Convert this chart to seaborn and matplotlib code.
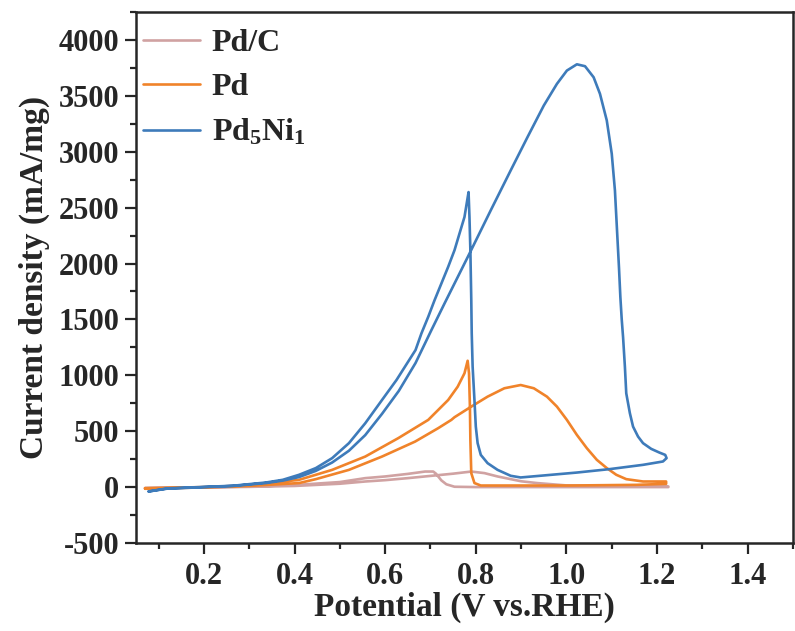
import numpy as np
import pandas as pd
import matplotlib
matplotlib.use("Agg")
import matplotlib.pyplot as plt
import seaborn as sns
from matplotlib.ticker import MultipleLocator

# ---- data ----
pdc_x = [0.07, 0.2, 0.3, 0.4, 0.5, 0.556, 0.6, 0.65, 0.7, 0.75, 0.79, 0.819, 0.848, 0.9, 0.935, 1.0, 1.1, 1.225,
         1.225, 1.1, 1.0, 0.9, 0.8, 0.753, 0.735, 0.724, 0.712, 0.706, 0.688, 0.65, 0.6, 0.556, 0.5, 0.4, 0.3, 0.2, 0.07]
pdc_y = [-10, -3, 2, 10, 30, 50, 62, 80, 100, 120, 139, 125, 95, 52, 36, 15, 8, 5,
         0, 0, 0, 0, 0, 3, 25, 60, 120, 139, 139, 118, 95, 80, 45, 18, 5, -2, -8]

pd_x = [0.07, 0.2, 0.3, 0.41, 0.447, 0.52, 0.593, 0.666, 0.717, 0.746, 0.753, 0.79, 0.826, 0.863, 0.899,
        0.928, 0.957, 0.979, 1.001, 1.023, 1.045, 1.067, 1.089, 1.11, 1.132, 1.169, 1.22,
        1.22, 1.154, 1.008, 0.863, 0.811, 0.797, 0.79, 0.788, 0.787, 0.785, 0.782, 0.775, 0.76, 0.739,
        0.717, 0.695, 0.629, 0.556, 0.483, 0.41, 0.3, 0.2, 0.07]
pd_y = [-15, -3, 10, 36, 71, 154, 273, 407, 527, 601, 625, 720, 809, 884, 913,
        884, 809, 720, 601, 467, 348, 244, 170, 110, 71, 50, 50,
        29, 20, 14, 14, 14, 36, 125, 422, 720, 1018, 1130, 1018, 898, 779,
        690, 601, 438, 273, 154, 65, 15, 0, -10]

pdni_x = [0.078, 0.119, 0.191, 0.264, 0.337, 0.374, 0.41, 0.447, 0.483, 0.52, 0.556, 0.593, 0.63, 0.667,
          0.702, 0.731, 0.786, 0.833, 0.877, 0.914, 0.95, 0.979, 1.001, 1.023, 1.041, 1.06, 1.074,
          1.089, 1.1, 1.107, 1.112, 1.116, 1.119, 1.122, 1.125, 1.129, 1.132, 1.14, 1.147, 1.158,
          1.169, 1.187, 1.205, 1.218, 1.221,
          1.213, 1.169, 1.096, 1.023, 0.95, 0.899, 0.877, 0.848, 0.826, 0.811, 0.804, 0.8, 0.797,
          0.793, 0.791, 0.79, 0.788, 0.786, 0.784, 0.781, 0.775, 0.764, 0.753, 0.739, 0.724, 0.709,
          0.695, 0.68, 0.667, 0.625, 0.593, 0.556, 0.52, 0.483, 0.447, 0.41, 0.374, 0.337, 0.264,
          0.191, 0.119, 0.078]
pdni_y = [-39, -14, -2, 10, 36, 58, 90, 145, 220, 325, 465, 655, 860, 1110,
          1404, 1643, 2089, 2476, 2833, 3130, 3413, 3607, 3726, 3782, 3765, 3666, 3518,
          3280, 2982, 2654, 2268, 1960, 1700, 1500, 1340, 1077, 839, 661, 541, 452,
          393, 342, 309, 288, 259,
          229, 199, 161, 130, 104, 86, 101, 154, 214, 288, 393, 541, 779,
          1077, 1375, 1673, 2119, 2416, 2639, 2565, 2416, 2268, 2119, 1970, 1821, 1672,
          1523, 1375, 1226, 958, 779, 571, 393, 259, 170, 110, 65, 41, 12,
          0, -12, -39]

series_names = ["Pd/C", "Pd", "Pd$_\\mathbf{5}$Ni$_\\mathbf{1}$"]
series_colors = ["#d0a2a2", "#f0832a", "#3e7bba"]
series_x = [pdc_x, pd_x, pdni_x]
series_y = [pdc_y, pd_y, pdni_y]

frames = []
for name, xs, ys in zip(series_names, series_x, series_y):
    frames.append(pd.DataFrame({"Potential": xs, "Current": ys, "Sample": name}))
df = pd.concat(frames, ignore_index=True)

sns.set_style("ticks")
plt.rcParams["font.family"] = ["Liberation Serif", "DejaVu Serif"]
plt.rcParams["font.weight"] = "bold"
plt.rcParams["axes.unicode_minus"] = False
plt.rcParams["mathtext.fontset"] = "custom"
plt.rcParams["mathtext.rm"] = "Liberation Serif:bold"
plt.rcParams["mathtext.bf"] = "Liberation Serif:bold"
plt.rcParams["mathtext.it"] = "Liberation Serif:bold"

fig = plt.figure(figsize=(7.95, 6.31), dpi=100)
ax = fig.add_axes([0.171, 0.1395, 0.8265, 0.8415])

for name, col in zip(series_names, series_colors):
    sub = df[df["Sample"] == name]
    sns.lineplot(data=sub, x="Potential", y="Current", sort=False, estimator=None,
                 color=col, linewidth=1.9, ax=ax, label=name)

ax.set_xlim(0.05, 1.5)
ax.set_ylim(-500, 4250)
ax.set_xticks([0.2, 0.4, 0.6, 0.8, 1.0, 1.2, 1.4])
ax.set_xticklabels(["0.2", "0.4", "0.6", "0.8", "1.0", "1.2", "1.4"])
ax.xaxis.set_minor_locator(MultipleLocator(0.1))
ax.yaxis.set_major_locator(MultipleLocator(500))
ax.yaxis.set_minor_locator(MultipleLocator(250))

ax.tick_params(axis="both", which="major", length=8, width=1.6, labelsize=22, direction="out", pad=4)
ax.tick_params(axis="x", which="major", pad=6)
ax.tick_params(axis="both", which="minor", length=4.5, width=1.6, direction="out")
for lab in ax.get_xticklabels() + ax.get_yticklabels():
    lab.set_fontweight("bold")
for sp in ax.spines.values():
    sp.set_linewidth(1.8)
    sp.set_visible(True)

ax.set_xlabel("Potential (V vs.RHE)", fontsize=24, fontweight="bold", labelpad=0)
ax.set_ylabel("Current density (mA/mg)", fontsize=24, fontweight="bold", labelpad=6)

leg = ax.legend(loc="upper left", frameon=False, fontsize=23, handlelength=1.8,
                handletextpad=0.35, labelspacing=0.47, borderaxespad=0, borderpad=0,
                bbox_to_anchor=(0.0107, 0.969))
for t in leg.get_texts():
    t.set_fontweight("bold")

fig.savefig("out.png", dpi=100)
